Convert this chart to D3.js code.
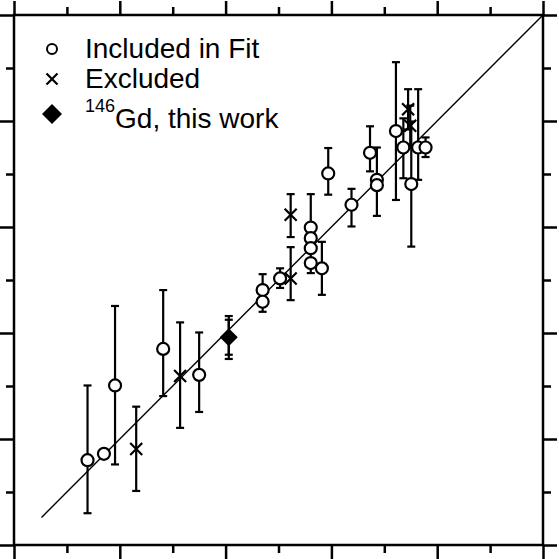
<!DOCTYPE html>
<html>
<head>
<meta charset="utf-8">
<script src="https://cdn.jsdelivr.net/npm/d3@7"></script>
<style>
  html, body { margin: 0; padding: 0; background: #fff; }
  svg { display: block; }
  text { font-family: "Liberation Sans", Arial, sans-serif; }
</style>
</head>
<body>
<svg id="chart"></svg>
<script>
// included points (open circles)
var inclX  = [1.39, 1.70, 1.91, 2.82, 3.50, 4.70, 4.70, 5.03, 5.61, 5.61, 5.61, 5.61, 5.82, 6.38, 5.94, 6.73, 6.86, 6.86, 7.22, 7.36, 7.51, 7.64, 7.78]
var inclY  = [1.60, 1.72, 3.01, 3.70, 3.21, 4.81, 4.59, 5.03, 5.99, 5.79, 5.60, 5.32, 5.22, 6.42, 7.01, 7.40, 6.89, 6.79, 7.81, 7.50, 6.81, 7.50, 7.50]
var inclUp = [1.41, 0,    1.50, 1.11, 0.80, 0.30, 0.22, 0.19, 0,    0.83, 0,    0,    0.50, 0.30, 0.48, 0.50, 0.61, 0,    1.30, 0.55, 1.18, 1.10, 0.19]
var inclDn = [1.00, 0,    1.49, 0.89, 0.70, 0.22, 0.19, 0.18, 0,    0.66, 0,    0,    0.50, 0.41, 0.40, 0.35, 0.68, 0,    1.30, 0.58, 1.18, 0.61, 0.18]

// excluded points (crosses)
var exclX  = [2.31, 3.14, 5.23, 5.23, 7.45, 7.49]
var exclY  = [1.81, 3.19, 6.23, 5.03, 8.22, 7.91]
var exclUp = [0.80, 1.01, 0.39, 0.59, 0.38, 0.38]
var exclDn = [0.79, 0.98, 0.42, 0.41, 0.38, 0.38]

// 146Gd, this work (diamond): inner and outer error bars
var gdX = 4.06, gdY = 3.92
var gdInner = [0.33, 0.33]
var gdOuter = [0.40, 0.41]

// y = x reference line
var fitLine = [0.52, 10]

var majorTicks = [0, 2, 4, 6, 8, 10]
var minorTicks = [1, 3, 5, 7, 9]

var W = 559, H = 559
var pLeft = 14, pRight = 543, pTop = 15, pBottom = 545

var x = d3.scaleLinear().domain([0, 10]).range([pLeft, pRight])
var y = d3.scaleLinear().domain([0, 10]).range([pBottom, pTop])

var svg = d3.select('#chart').attr('width', W).attr('height', H)

// ticks on all four sides, pointing outward
function tickAxis(axisFn, scale, values, size) {
  return axisFn(scale).tickValues(values).tickSize(size).tickSizeOuter(0).tickFormat('')
}
var sides = [
  [d3.axisBottom, x, 'translate(0,' + pBottom + ')'],
  [d3.axisTop, x, 'translate(0,' + pTop + ')'],
  [d3.axisLeft, y, 'translate(' + pLeft + ',0)'],
  [d3.axisRight, y, 'translate(' + pRight + ',0)']
]
sides.forEach(function(s) {
  [[majorTicks, 14], [minorTicks, 8]].forEach(function(t) {
    var g = svg.append('g').attr('transform', s[2]).call(tickAxis(s[0], s[1], t[0], t[1]))
    g.select('.domain').remove()
    g.selectAll('line').attr('stroke', '#000').attr('stroke-width', 2.5)
  })
})

svg.append('rect')
  .attr('x', pLeft).attr('y', pTop)
  .attr('width', pRight - pLeft).attr('height', pBottom - pTop)
  .attr('fill', 'none').attr('stroke', '#000').attr('stroke-width', 2.5)

// reference line
svg.append('line')
  .attr('x1', x(fitLine[0])).attr('y1', y(fitLine[0]))
  .attr('x2', x(fitLine[1])).attr('y2', y(fitLine[1]))
  .attr('stroke', '#000').attr('stroke-width', 1.4)

var incl = inclX.map((d, i) => ({x: d, y: inclY[i], up: inclUp[i], dn: inclDn[i]}))
var excl = exclX.map((d, i) => ({x: d, y: exclY[i], up: exclUp[i], dn: exclDn[i]}))

function errorBar(g, px, lo, hi, cap) {
  g.append('line').attr('x1', px).attr('x2', px).attr('y1', y(lo)).attr('y2', y(hi))
  g.append('line').attr('x1', px - cap).attr('x2', px + cap).attr('y1', y(lo)).attr('y2', y(lo))
  g.append('line').attr('x1', px - cap).attr('x2', px + cap).attr('y1', y(hi)).attr('y2', y(hi))
}

var bars = svg.append('g').attr('stroke', '#000').attr('stroke-width', 2.2)
incl.concat(excl).forEach(function(d) {
  if (d.up > 0 || d.dn > 0) errorBar(bars, x(d.x), d.y - d.dn, d.y + d.up, 4)
})
errorBar(bars, x(gdX), gdY - gdOuter[1], gdY + gdOuter[0], 4)
errorBar(bars, x(gdX), gdY - gdInner[1], gdY + gdInner[0], 4)

function cross(g, cx, cy, r) {
  g.append('path')
    .attr('d', 'M' + (cx - r) + ',' + (cy - r) + 'L' + (cx + r) + ',' + (cy + r) +
               'M' + (cx - r) + ',' + (cy + r) + 'L' + (cx + r) + ',' + (cy - r))
    .attr('stroke', '#000').attr('stroke-width', 2.2).attr('fill', 'none')
}
function diamond(g, cx, cy, r) {
  g.append('path')
    .attr('d', 'M' + cx + ',' + (cy - r) + 'L' + (cx + r) + ',' + cy + 'L' + cx + ',' + (cy + r) + 'L' + (cx - r) + ',' + cy + 'Z')
    .attr('fill', '#000')
}

var marks = svg.append('g')
marks.selectAll('circle')
  .data(incl)
  .enter()
  .append('circle')
    .attr('cx', d => x(d.x))
    .attr('cy', d => y(d.y))
    .attr('r', 6)
    .attr('fill', '#fff')
    .attr('stroke', '#000')
    .attr('stroke-width', 2.2)
excl.forEach(d => cross(marks, x(d.x), y(d.y), 6))
diamond(marks, x(gdX), y(gdY), 9)

// legend
var leg = svg.append('g')
leg.append('circle').attr('cx', 52).attr('cy', 49).attr('r', 5)
  .attr('fill', '#fff').attr('stroke', '#000').attr('stroke-width', 2)
cross(leg, 52, 79, 5.5)
diamond(leg, 52, 114, 10)
leg.append('text').attr('x', 85).attr('y', 58).attr('font-size', 28).text('Included in Fit')
leg.append('text').attr('x', 85).attr('y', 88).attr('font-size', 28).text('Excluded')
var t = leg.append('text').attr('x', 85).attr('y', 128).attr('font-size', 28)
t.append('tspan').attr('font-size', 18).attr('dy', -16).text('146')
t.append('tspan').attr('dy', 16).text('Gd, this work')
</script>
</body>
</html>
